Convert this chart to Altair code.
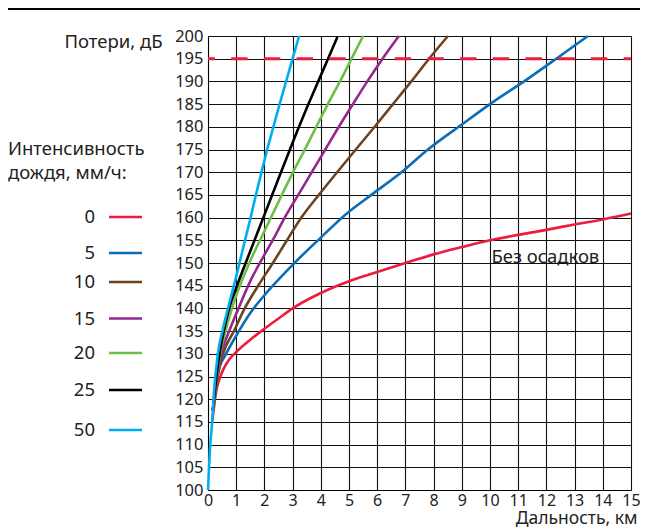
import altair as alt
import pandas as pd

# ---------------- data ----------------
rain = ["0", "5", "10", "15", "20", "25", "50"]
colors = ["#EC1C3C", "#0B6DB7", "#6E4420", "#94288F", "#6DBE45", "#000000", "#00AEEF"]

km_0 = [0.155, 0.3, 0.44, 0.53, 0.77, 1.0, 1.48, 2.0, 2.66, 3.0, 4.0, 5.0, 6.0, 7.0, 8.0, 9.0, 10.0, 11.0, 12.0, 13.0, 14.0, 15.0]
db_0 = [115.3, 122.0, 125.0, 126.4, 128.9, 130.4, 133.0, 135.5, 138.5, 140.0, 143.4, 146.0, 148.0, 150.0, 151.9, 153.5, 155.0, 156.2, 157.3, 158.5, 159.6, 160.9]

km_5 = [0.17, 0.3, 0.41, 0.6, 1.0, 1.5, 2.0, 2.27, 3.0, 4.0, 4.88, 5.79, 6.86, 7.8, 9.0, 10.0, 11.3, 12.35, 13.47]
db_5 = [117.5, 123.5, 127.0, 129.5, 134.0, 139.0, 142.9, 144.8, 149.6, 155.6, 160.7, 165.0, 170.0, 175.0, 180.5, 185.0, 190.4, 195.0, 200.0]

km_10 = [0.17, 0.3, 0.53, 0.92, 1.3, 1.8, 2.3, 2.8, 3.31, 3.93, 4.58, 5.24, 5.91, 6.56, 7.21, 7.84, 8.51]
db_10 = [117.5, 124.0, 130.0, 135.0, 140.0, 145.2, 150.0, 155.0, 160.0, 165.0, 170.0, 175.0, 180.0, 185.0, 190.0, 195.0, 200.0]

km_15 = [0.17, 0.3, 0.47, 0.75, 1.08, 1.5, 2.0, 2.38, 2.72, 3.2, 3.68, 4.16, 4.64, 5.14, 5.65, 6.19, 6.77]
db_15 = [117.5, 124.0, 130.0, 135.0, 140.0, 146.0, 151.8, 156.0, 160.0, 165.0, 170.0, 175.0, 180.0, 185.0, 190.0, 195.0, 200.0]

km_20 = [0.17, 0.3, 0.43, 0.62, 0.85, 1.0, 1.48, 2.0, 2.54, 3.0, 3.5, 3.96, 4.25, 4.68, 5.09, 5.5]
db_20 = [117.5, 124.5, 130.0, 135.0, 140.0, 142.8, 150.2, 157.0, 164.0, 169.8, 175.8, 181.5, 185.0, 190.0, 195.0, 200.0]

km_25 = [0.17, 0.3, 0.41, 0.56, 0.75, 1.0, 1.48, 1.75, 2.0, 2.25, 2.55, 2.86, 3.18, 3.52, 3.88, 4.23, 4.59]
db_25 = [117.5, 125.0, 130.0, 135.0, 140.0, 144.5, 152.3, 156.6, 160.6, 164.6, 169.4, 174.3, 179.3, 184.4, 189.6, 194.6, 199.8]

km_50 = [0.0, 0.08, 0.155, 0.2, 0.35, 0.53, 0.77, 1.0, 1.24, 1.48, 1.68, 1.89, 2.1, 2.32, 2.54, 2.77, 3.0, 3.23]
db_50 = [100.0, 110.0, 115.6, 120.5, 130.0, 135.5, 141.5, 147.0, 153.2, 159.2, 164.5, 169.8, 175.0, 180.0, 185.0, 190.0, 195.0, 200.0]

threshold_db = [195]
no_rain_label = ["Без осадков"]
no_rain_pos_km = [10.05]
no_rain_pos_db = [151.3]

x_ticks = list(range(0, 16))
y_ticks = list(range(100, 201, 5))

legend_title = ["Интенсивность", "дождя, мм/ч:"]

series_km = [km_0, km_5, km_10, km_15, km_20, km_25, km_50]
series_db = [db_0, db_5, db_10, db_15, db_20, db_25, db_50]

rows = []
for name, ks, ds in zip(rain, series_km, series_db):
    for i, (k, d) in enumerate(zip(ks, ds)):
        rows.append({"rain": name, "km": k, "db": d, "ord": i})
df = pd.DataFrame(rows)

# ---------------- layout ----------------
FONT = "Noto Sans"
W, H = 423, 454
legend_y = [181, 217, 246, 282.5, 317, 354, 394]   # pixel rows of legend entries
legend_label_x = -113
legend_line_x = (-99, -66)
legend_title_y = [113, 137]
legend_title_x = -200

x_scale = alt.Scale(domain=[0, 15], nice=False, zero=False)
y_scale = alt.Scale(domain=[100, 200], nice=False, zero=False)

x_axis = alt.Axis(values=x_ticks, title="Дальность, км", grid=True, ticks=False,
                  labelFontSize=16, labelFont=FONT, labelColor="#222", labelPadding=2,
                  labelFlush=False, labelOverlap=False,
                  domainColor="#000", domainWidth=1, gridColor="#111", gridWidth=1.1,
                  titleFont=FONT, titleFontSize=17.5, titleFontWeight="normal", titleColor="#222",
                  titleAlign="right", titleBaseline="middle", titleX=429, titleY=28, titleAnchor="end")
y_axis = alt.Axis(values=y_ticks, title="Потери, дБ", grid=True, ticks=False,
                  labelFontSize=16.5, labelFont=FONT, labelColor="#222", labelPadding=5,
                  labelFlush=False, labelOverlap=False,
                  domainColor="#000", domainWidth=1, gridColor="#111", gridWidth=1.1,
                  titleFont=FONT, titleFontSize=18.5, titleFontWeight="normal", titleColor="#222",
                  titleAngle=0, titleAlign="right", titleBaseline="middle", titleX=-46, titleY=5)

curves = alt.Chart(df).mark_line(strokeWidth=2.6, interpolate="monotone").encode(
    x=alt.X("km:Q", scale=x_scale, axis=x_axis),
    y=alt.Y("db:Q", scale=y_scale, axis=y_axis),
    color=alt.Color("rain:N", scale=alt.Scale(domain=rain, range=colors), legend=None),
    order="ord:Q",
)

thr = alt.Chart(pd.DataFrame({"db": threshold_db})).mark_rule(
    color=colors[0], strokeWidth=3, strokeDash=[16.4, 16.3], strokeDashOffset=9
).encode(y=alt.Y("db:Q", scale=y_scale, axis=y_axis))

note = alt.Chart(pd.DataFrame({"km": no_rain_pos_km, "db": no_rain_pos_db, "t": no_rain_label})).mark_text(
    align="left", baseline="middle", font=FONT, fontSize=18.5, color="#222"
).encode(x=alt.X("km:Q", scale=x_scale, axis=x_axis),
         y=alt.Y("db:Q", scale=y_scale, axis=y_axis), text="t:N")

top_line = alt.Chart(pd.DataFrame({"a": [0]})).mark_rule(color="#000", strokeWidth=2).encode(
    x=alt.value(-200), x2=alt.value(432), y=alt.value(-27)
)

layers = [curves, top_line, thr, note]

for t, ty in zip(legend_title, legend_title_y):
    layers.append(
        alt.Chart(pd.DataFrame({"t": [t]})).mark_text(
            align="left", baseline="middle", font=FONT, fontSize=18.5, color="#222"
        ).encode(x=alt.value(legend_title_x), y=alt.value(ty), text="t:N")
    )

for name, col, ly in zip(rain, colors, legend_y):
    layers.append(
        alt.Chart(pd.DataFrame({"t": [name]})).mark_text(
            align="right", baseline="middle", font=FONT, fontSize=18.5, color="#222"
        ).encode(x=alt.value(legend_label_x), y=alt.value(ly), text="t:N")
    )
    layers.append(
        alt.Chart(pd.DataFrame({"t": [name]})).mark_rule(color=col, strokeWidth=2.6).encode(
            x=alt.value(legend_line_x[0]), x2=alt.value(legend_line_x[1]), y=alt.value(ly)
        )
    )

chart = alt.layer(*layers).properties(
    width=W, height=H,
    autosize=alt.AutoSizeParams(type="none"),
    padding={"left": 200, "top": 28, "right": 9, "bottom": 38},
    background="white",
).configure_view(stroke=None)

chart.save("out.html", embed_options={"renderer": "svg", "actions": False})
